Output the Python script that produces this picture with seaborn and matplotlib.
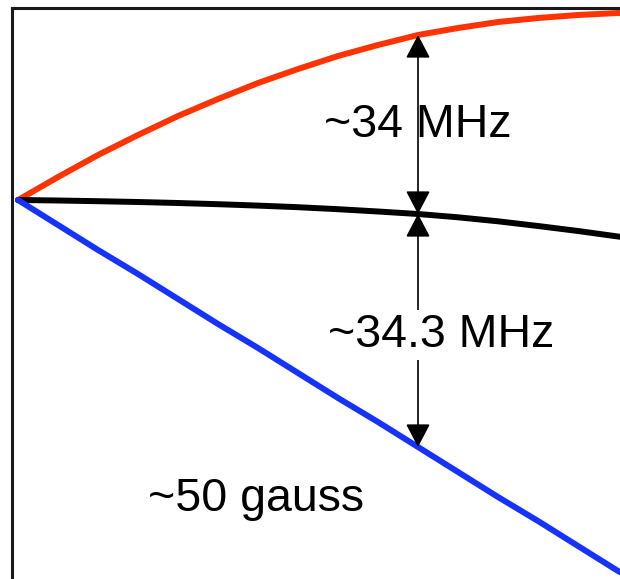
import numpy as np
import pandas as pd
import matplotlib
matplotlib.use("Agg")
import matplotlib.pyplot as plt
import seaborn as sns

# Magnetic field (gauss) and level energies (arbitrary units, relative to zero field)
field_gauss = [0, 5, 10, 15, 20, 25, 30, 35, 40, 45, 50, 55, 60, 65, 70, 75, 75.5]
upper_level = [0, 23, 45, 65, 84, 101, 117, 131, 144, 155, 165, 172, 178, 182, 185, 187, 187]
middle_level = [0, -0.5, -1.2, -2, -3, -4.2, -5.6, -7.2, -9.2, -11.5, -14, -17.3, -21.3, -26, -31, -36.5, -37]
lower_level = [0, -25, -50, -74, -99, -124, -148, -173, -198, -222, -247, -272, -297, -321, -346, -371, -373]

marker_field = 50
label_upper = "~34 MHz"
label_lower = "~34.3 MHz"
label_field = "~50 gauss"

df = pd.DataFrame({
    "B": field_gauss,
    "upper": upper_level,
    "middle": middle_level,
    "lower": lower_level,
})

sns.set_theme(style="white")
plt.rcParams["font.family"] = ["Liberation Sans", "DejaVu Sans"]

W, H = 620, 579
fig = plt.figure(figsize=(W / 100, H / 100), dpi=100)
left_px, top_px = 11.5, 8
ax = fig.add_axes([left_px / W, 0, 1 - left_px / W, 1 - top_px / H])

sns.lineplot(data=df, x="B", y="upper", color="#ff3300", linewidth=4.3, ax=ax)
sns.lineplot(data=df, x="B", y="middle", color="#000000", linewidth=4.3, ax=ax)
sns.lineplot(data=df, x="B", y="lower", color="#1632ff", linewidth=4.3, ax=ax)

ax.set_xlim(-0.8125, 75.25)
ax.set_ylim(-379, 192)
ax.set_xticks([])
ax.set_yticks([])
ax.set_xlabel("")
ax.set_ylabel("")
for side in ("right", "bottom"):
    ax.spines[side].set_visible(False)
for side in ("left", "top"):
    ax.spines[side].set_color("#1a1a1a")
    ax.spines[side].set_linewidth(2.2)

# splitting arrows at the marked field
i = field_gauss.index(marker_field)
arrow_kw = dict(arrowstyle="<|-|>,head_length=0.8,head_width=0.42",
                mutation_scale=18, color="black", lw=1.2,
                shrinkA=0, shrinkB=0)
ax.annotate("", xy=(marker_field, upper_level[i]), xytext=(marker_field, middle_level[i]),
            arrowprops=arrow_kw)
ax.annotate("", xy=(marker_field, middle_level[i]), xytext=(marker_field, lower_level[i]),
            arrowprops=arrow_kw)

ax.text(marker_field, 63, label_upper, ha="center", va="baseline", fontsize=33.5, color="black")
ax.text(52.9, -147, label_lower, ha="center", va="baseline", fontsize=33.5, color="black",
        bbox=dict(facecolor="white", edgecolor="none", pad=2))
ax.text(29.75, -311, label_field, ha="center", va="baseline", fontsize=33.5, color="black")

fig.savefig("out.png", dpi=100)
